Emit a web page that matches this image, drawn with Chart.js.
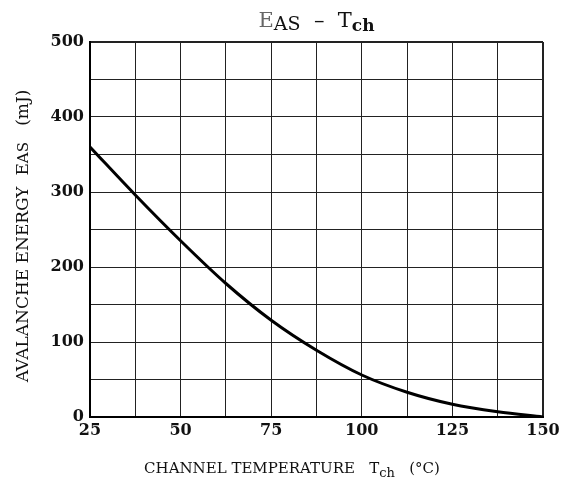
<!DOCTYPE html>
<html>
<head>
<meta charset="utf-8">
<script src="https://cdn.jsdelivr.net/npm/chart.js@4"></script>
<style>
  html, body { margin: 0; padding: 0; background: #fff; }
  #wrap { width: 565px; height: 484px; }
</style>
</head>
<body>
<div id="wrap"><canvas id="easChart"></canvas></div>
<script>
// values (Tch in degC, EAS in mJ)
const temps = [25, 37.5, 50, 62.5, 75, 87.5, 100, 112.5, 125, 137.5, 150];
const energy = [360, 296, 235, 178, 129, 89, 56, 33, 17, 7, 0];
const xTickLabels = [25, 50, 75, 100, 125, 150];
const yTickLabels = [0, 100, 200, 300, 400, 500];

const serif = "'DejaVu Serif', 'Liberation Serif', serif";

// draws the title and axis titles, which carry subscripts
const labelsPlugin = {
    id: "subLabels",
    afterDraw(chart) {
        const c = chart.ctx;
        const area = chart.chartArea;
        c.save();
        c.fillStyle = "#111";
        c.textBaseline = "alphabetic";

        function runs(parts, x, y, align) {
            let total = 0;
            parts.forEach(p => { c.font = p.font; total += c.measureText(p.t).width; });
            let cx = align === "center" ? x - total / 2 : x;
            parts.forEach(p => {
                c.font = p.font;
                c.fillStyle = p.color || "#111";
                c.fillText(p.t, cx, y + (p.dy || 0));
                cx += c.measureText(p.t).width;
            });
        }

        // title
        runs([
            { t: "E", font: "21px " + serif, color: "#666" },
            { t: "AS", font: "19px " + serif, dy: 3 },
            { t: "  –  T", font: "21px " + serif },
            { t: "ch", font: "bold 17px " + serif, dy: 4 }
        ], (area.left + area.right) / 2, 27, "center");

        // x title
        runs([
            { t: "CHANNEL TEMPERATURE   T", font: "15px " + serif },
            { t: "ch", font: "13px " + serif, dy: 4 },
            { t: "   (°C)", font: "15px " + serif }
        ], 292, 473, "center");

        // y title
        c.translate(28, 236);
        c.rotate(-Math.PI / 2);
        runs([
            { t: "AVALANCHE ENERGY  E", font: "17px " + serif },
            { t: "AS", font: "15px " + serif },
            { t: "   (mJ)", font: "17px " + serif }
        ], 0, 0, "center");
        c.restore();
    }
};

new Chart(document.getElementById("easChart"), {
    type: "line",
    data: {
        datasets: [{
            data: temps.map((t, i) => ({ x: t, y: energy[i] })),
            borderColor: "#000",
            borderWidth: 3,
            pointRadius: 0,
            cubicInterpolationMode: "monotone",
            fill: false
        }]
    },
    options: {
        responsive: true,
        maintainAspectRatio: false,
        animation: false,
        layout: { padding: { top: 42, right: 22, bottom: 0, left: 0 } },
        plugins: {
            legend: { display: false },
            tooltip: { enabled: false },
            title: { display: false }
        },
        scales: {
            x: {
                type: "linear",
                min: 25,
                max: 150,
                afterFit(s) { s.height = 67; },
                afterBuildTicks(s) {
                    const t = [];
                    for (let v = 25; v <= 150; v += 12.5) t.push({ value: v });
                    s.ticks = t;
                },
                ticks: {
                    autoSkip: false,
                    maxRotation: 0,
                    padding: 4,
                    color: "#111",
                    font: { family: serif, size: 16, weight: "bold" },
                    callback: v => xTickLabels.includes(v) ? String(v) : ""
                },
                grid: {
                    color: "#222",
                    lineWidth: ctx => ctx.tick && ctx.tick.value === 150 ? 2 : 1,
                    drawTicks: false
                },
                border: { color: "#000", width: 2 }
            },
            y: {
                min: 0,
                max: 500,
                afterFit(s) { s.width = 90; },
                afterBuildTicks(s) {
                    const t = [];
                    for (let v = 0; v <= 500; v += 50) t.push({ value: v });
                    s.ticks = t;
                },
                ticks: {
                    autoSkip: false,
                    padding: 6,
                    color: "#111",
                    font: { family: serif, size: 16, weight: "bold" },
                    callback: v => yTickLabels.includes(v) ? String(v) : ""
                },
                grid: {
                    color: "#222",
                    lineWidth: ctx => ctx.tick && ctx.tick.value === 500 ? 2 : 1,
                    drawTicks: false
                },
                border: { color: "#000", width: 2 }
            }
        }
    },
    plugins: [labelsPlugin]
});
</script>
</body>
</html>
